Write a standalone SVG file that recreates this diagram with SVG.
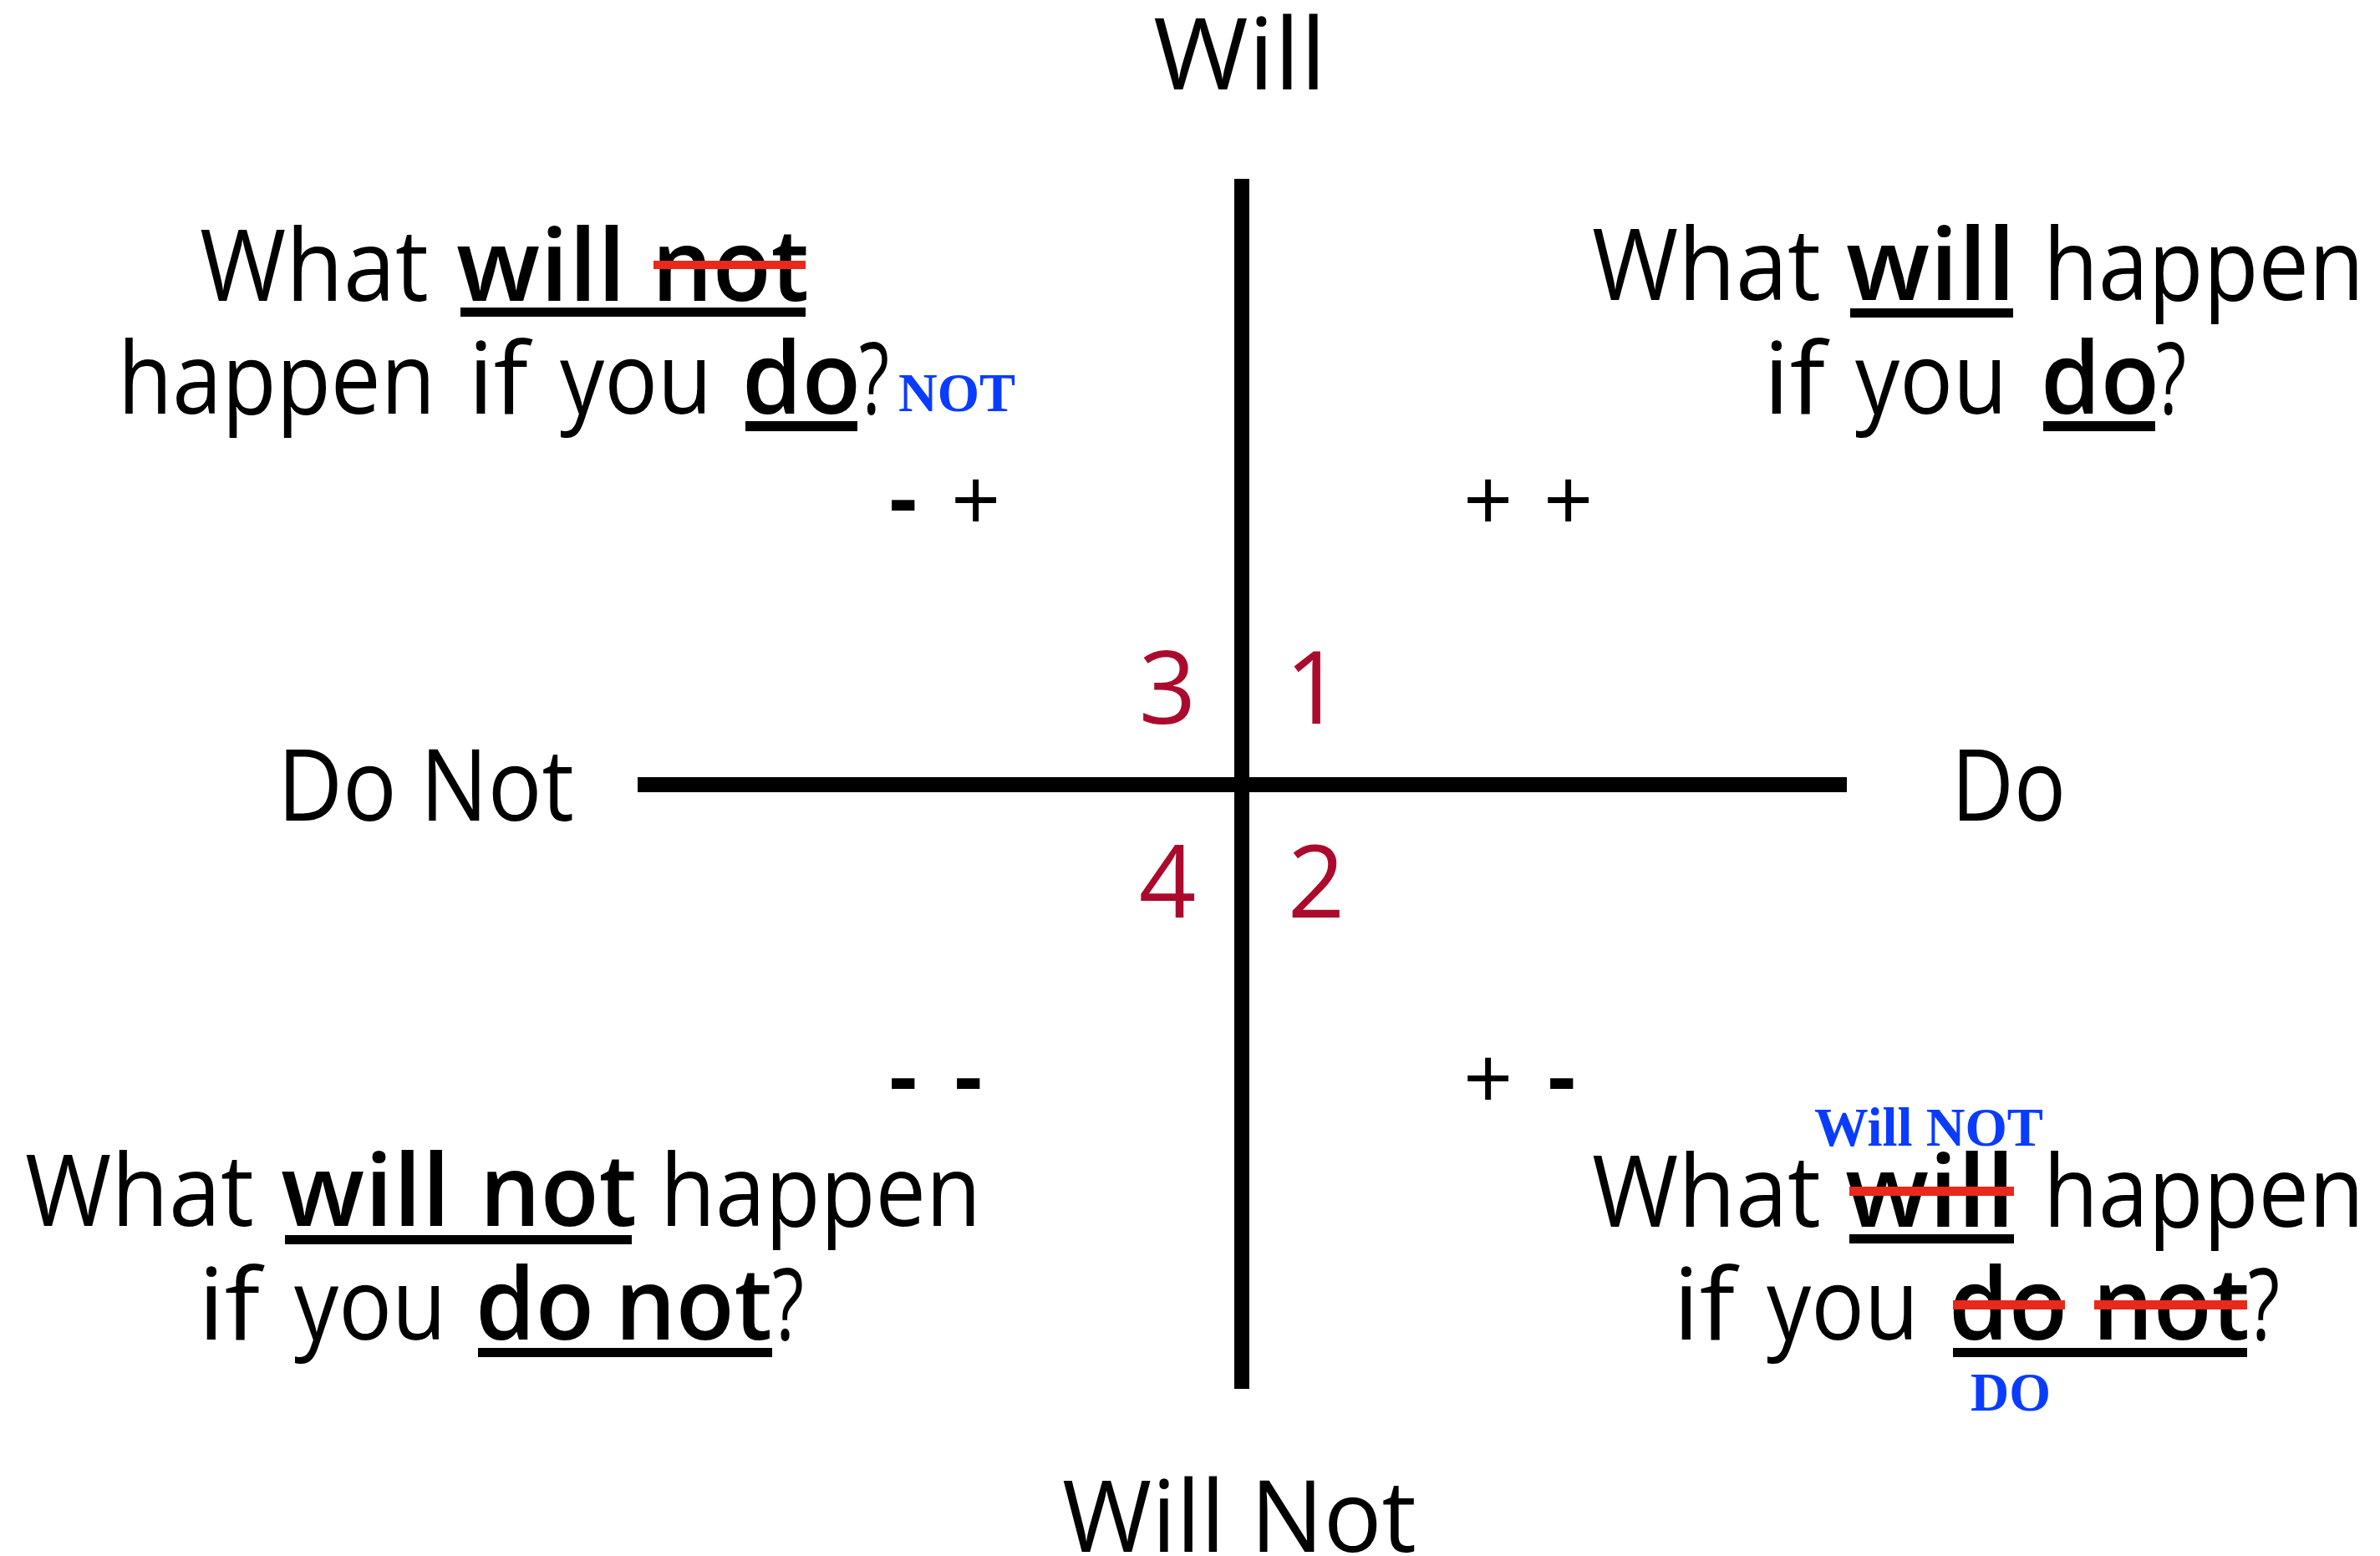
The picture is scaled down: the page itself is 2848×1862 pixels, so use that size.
<svg xmlns="http://www.w3.org/2000/svg" width="2848" height="1862" viewBox="0 0 2848 1862">
<style>
.t{font-family:"Open Sans","Liberation Sans",sans-serif;font-size:119px;fill:#000}
.b{font-weight:600}
.bl{font-family:"Liberation Serif","Times New Roman",serif;font-weight:700;font-size:65px;fill:#0A3CFF}
.num{font-family:"Open Sans","Liberation Sans",sans-serif;font-size:120px;fill:#AC0A2C;text-anchor:middle}
.sg{font-family:"Open Sans","Liberation Sans",sans-serif;font-size:104px;fill:#000}
.sb{font-weight:700}
.ul{fill:#000}
.st{fill:#E8291C}
.ax{stroke:#000;stroke-width:18;fill:none}
</style>
<rect width="2848" height="1862" fill="#fff"/>
<g id="axes">
<line class="ax" x1="1486" y1="214" x2="1486" y2="1662"/>
<line class="ax" x1="763" y1="939" x2="2210" y2="939"/>
</g>
<g id="label-will"><text class="t" x="1380" y="107" textLength="207" lengthAdjust="spacingAndGlyphs">Will</text></g>
<g id="label-will-not"><text class="t" x="1271" y="1857" textLength="424" lengthAdjust="spacingAndGlyphs">Will Not</text></g>
<g id="label-do-not"><text class="t" x="332" y="982" textLength="355" lengthAdjust="spacingAndGlyphs">Do Not</text></g>
<g id="label-do"><text class="t" x="2335" y="982" textLength="137" lengthAdjust="spacingAndGlyphs">Do</text></g>
<g id="quadrant-numbers">
<text class="num" x="1397" y="866">3</text>
<text class="num" x="1572" y="866">1</text>
<text class="num" x="1397" y="1098">4</text>
<text class="num" x="1575" y="1098">2</text>
</g>
<g id="signs">
<text class="sg"><tspan class="sb" x="1064" y="633">-</tspan> <tspan x="1138" y="636">+</tspan></text>
<text class="sg"><tspan x="1751" y="636">+</tspan> <tspan x="1847" y="636">+</tspan></text>
<text class="sg"><tspan class="sb" x="1064" y="1325">-</tspan> <tspan class="sb" x="1142" y="1325">-</tspan></text>
<text class="sg"><tspan x="1751" y="1328">+</tspan> <tspan class="sb" x="1852" y="1325">-</tspan></text>
</g>
<g id="q3-top-left">
<text class="t"><tspan x="239" y="360" textLength="274" lengthAdjust="spacingAndGlyphs">What</tspan> <tspan class="b" x="546" textLength="203" lengthAdjust="spacingAndGlyphs">will</tspan> <tspan class="b" x="780" textLength="188" lengthAdjust="spacingAndGlyphs">not</tspan></text>
<text class="t"><tspan x="141" y="495" textLength="380" lengthAdjust="spacingAndGlyphs">happen</tspan> <tspan x="560" textLength="72" lengthAdjust="spacingAndGlyphs">if</tspan> <tspan x="670" textLength="182" lengthAdjust="spacingAndGlyphs">you</tspan> <tspan class="b" x="888" textLength="142" lengthAdjust="spacingAndGlyphs">do</tspan><tspan x="1028" textLength="36" lengthAdjust="spacingAndGlyphs">?</tspan></text>
<rect class="ul" x="551" y="368" width="413" height="11"/>
<rect class="st" x="782" y="312" width="182" height="10"/>
<rect class="ul" x="892" y="504" width="134" height="12"/>
<text class="bl" x="1075" y="492" textLength="140" lengthAdjust="spacingAndGlyphs">NOT</text>
</g>
<g id="q1-top-right">
<text class="t"><tspan x="1905" y="359" textLength="274" lengthAdjust="spacingAndGlyphs">What</tspan> <tspan class="b" x="2209" textLength="203" lengthAdjust="spacingAndGlyphs">will</tspan> <tspan x="2445" textLength="384" lengthAdjust="spacingAndGlyphs">happen</tspan></text>
<text class="t"><tspan x="2110" y="495" textLength="74" lengthAdjust="spacingAndGlyphs">if</tspan> <tspan x="2220" textLength="182" lengthAdjust="spacingAndGlyphs">you</tspan> <tspan class="b" x="2442" textLength="142" lengthAdjust="spacingAndGlyphs">do</tspan><tspan x="2580" textLength="36" lengthAdjust="spacingAndGlyphs">?</tspan></text>
<rect class="ul" x="2214" y="369" width="195" height="11"/>
<rect class="ul" x="2445" y="504" width="134" height="12"/>
</g>
<g id="q4-bottom-left">
<text class="t"><tspan x="30" y="1467" textLength="274" lengthAdjust="spacingAndGlyphs">What</tspan> <tspan class="b" x="336" textLength="203" lengthAdjust="spacingAndGlyphs">will</tspan> <tspan class="b" x="574" textLength="188" lengthAdjust="spacingAndGlyphs">not</tspan> <tspan x="790" textLength="384" lengthAdjust="spacingAndGlyphs">happen</tspan></text>
<text class="t"><tspan x="237" y="1603" textLength="74" lengthAdjust="spacingAndGlyphs">if</tspan> <tspan x="352" textLength="182" lengthAdjust="spacingAndGlyphs">you</tspan> <tspan class="b" x="569" textLength="142" lengthAdjust="spacingAndGlyphs">do</tspan> <tspan class="b" x="736" textLength="188" lengthAdjust="spacingAndGlyphs">not</tspan><tspan x="924" textLength="38" lengthAdjust="spacingAndGlyphs">?</tspan></text>
<rect class="ul" x="341" y="1478" width="415" height="11"/>
<rect class="ul" x="572" y="1613" width="352" height="11"/>
</g>
<g id="q2-bottom-right">
<text class="bl" x="2171" y="1371" textLength="274" lengthAdjust="spacingAndGlyphs">Will NOT</text>
<text class="t"><tspan x="1905" y="1468" textLength="274" lengthAdjust="spacingAndGlyphs">What</tspan> <tspan class="b" x="2208" textLength="203" lengthAdjust="spacingAndGlyphs">will</tspan> <tspan x="2445" textLength="384" lengthAdjust="spacingAndGlyphs">happen</tspan></text>
<text class="t"><tspan x="2002" y="1603" textLength="74" lengthAdjust="spacingAndGlyphs">if</tspan> <tspan x="2114" textLength="182" lengthAdjust="spacingAndGlyphs">you</tspan> <tspan class="b" x="2332" textLength="142" lengthAdjust="spacingAndGlyphs">do</tspan> <tspan class="b" x="2504" textLength="188" lengthAdjust="spacingAndGlyphs">not</tspan><tspan x="2690" textLength="38" lengthAdjust="spacingAndGlyphs">?</tspan></text>
<rect class="st" x="2213" y="1420" width="197" height="11"/>
<rect class="ul" x="2213" y="1477" width="197" height="11"/>
<rect class="st" x="2337" y="1556" width="134" height="11"/>
<rect class="st" x="2506" y="1556" width="183" height="11"/>
<rect class="ul" x="2337" y="1613" width="352" height="11"/>
<text class="bl" x="2358" y="1688" textLength="96" lengthAdjust="spacingAndGlyphs">DO</text>
</g>
</svg>
